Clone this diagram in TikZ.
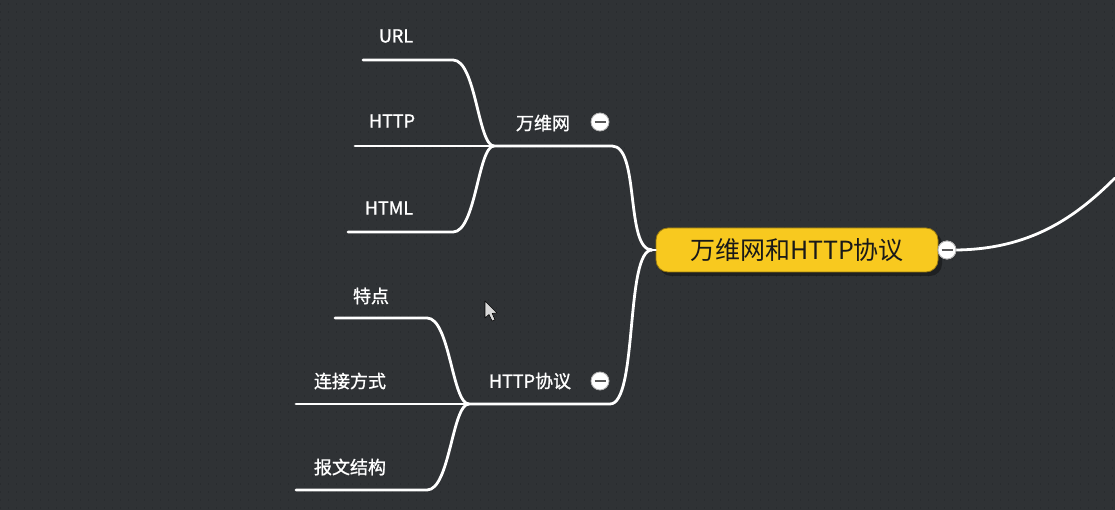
\documentclass[tikz,border=0pt]{standalone}
\usepackage{fontspec}
\newfontfamily\cjk{Noto Sans CJK SC}
\newfontfamily\cjkb[FakeBold=1.2]{Noto Sans CJK SC}
\definecolor{bg}{HTML}{2F3235}
\definecolor{dots}{HTML}{292C2F}
\definecolor{gold}{HTML}{F8C91F}
\definecolor{goldedge}{HTML}{9A7A10}
\tikzset{
  branch/.style={draw=white, line width=2.8pt, line cap=round},
  lbl/.style={text=white, font=\cjkb\fontsize{18}{20}\selectfont, inner sep=0pt},
  mid/.style={text=white, font=\cjkb\fontsize{18}{20}\selectfont, inner sep=0pt},
  toggle/.style={circle, fill=white, draw=gray!60, line width=0.8pt, minimum size=18pt, inner sep=0pt,
    path picture={\draw[gray!70!black, line width=1.8pt] ([xshift=-5.5pt]path picture bounding box.center) -- ([xshift=5.5pt]path picture bounding box.center);}},
  rootbox/.style={rounded corners=12pt, fill=gold, draw=goldedge, line width=0.8pt,
    minimum width=282pt, minimum height=44pt, text=black!90,
    font=\cjk\fontsize{25}{28}\selectfont}
}
\begin{document}
\begin{tikzpicture}[x=1pt,y=-1pt]
\fill[bg] (0,0) rectangle (1115,510);
\useasboundingbox (0,0) rectangle (1115,510);
% faint dot grid
\foreach \yy in {4,12,...,508}
  \draw[dots, line width=1.2pt, dash pattern=on 1.2pt off 6.8pt] (0,\yy) -- (1115,\yy);

% root
\fill[black, opacity=0.35, rounded corners=12pt] (659,232) rectangle (942,276);
\node[rootbox] (root) at (797,250) {万维网和HTTP协议};
\coordinate (rj) at (652,250);
\coordinate (exit) at (1115,178);

% mid-level
\node[mid] (www) at (543,123) {万维网};
\node[mid] (http) at (530,381) {HTTP协议};
\node[toggle] (t1) at (600,122) {};
\node[toggle] (t2) at (600,381) {};

\coordinate (j1) at (494,146);
\coordinate (j1e) at (612,146);
\coordinate (j2) at (469,404);
\coordinate (j2e) at (610,404);

% leaves
\node[lbl] (url) at (396,36) {URL};
\node[lbl] (httpl) at (392,121) {HTTP};
\node[lbl] (html) at (389,208) {HTML};
\node[lbl] (td) at (371,296) {特点};
\node[lbl] (ljfs) at (350,381) {连接方式};
\node[lbl] (bwjg) at (350,467) {报文结构};

\coordinate (urlS) at (363,60);  \coordinate (urlE) at (453,60);
\coordinate (httpS) at (355,146);
\coordinate (htmlS) at (348,232); \coordinate (htmlE) at (453,232);
\coordinate (tdS) at (335,318);  \coordinate (tdE) at (427,318);
\coordinate (ljS) at (296,404);
\coordinate (bwS) at (296,490);  \coordinate (bwE) at (427,490);

% connectors root -> mids
\draw[branch] (j1) -- (j1e) .. controls (640,146) and (625,250) .. (rj);
\draw[branch] (j2) -- (j2e) .. controls (638,404) and (625,250) .. (rj);
\draw[branch] (rj) -- (root.west);

% leaves of 万维网
\draw[branch] (urlS) -- (urlE) .. controls (476,60) and (478,146) .. (j1);
\draw[branch] (httpS) -- (j1);
\draw[branch] (htmlS) -- (htmlE) .. controls (476,232) and (478,146) .. (j1);

% leaves of HTTP协议
\draw[branch] (tdS) -- (tdE) .. controls (450,318) and (452,404) .. (j2);
\draw[branch] (ljS) -- (j2);
\draw[branch] (bwS) -- (bwE) .. controls (450,490) and (452,404) .. (j2);

% root toggle and outgoing curve
\node[toggle] (t0) at (947,250) {};
\draw[branch] (t0.east) .. controls (1030,249) and (1075,218) .. (exit);
\node[toggle] at (947,250) {};

% mouse cursor
\draw[fill=white!85!black, draw=black, line width=0.6pt, line join=round]
  (485,301) -- (485,318) -- (489,314.5) -- (492,321) -- (495,319.8) -- (492.2,313.4) -- (497,313) -- cycle;
\end{tikzpicture}
\end{document}
